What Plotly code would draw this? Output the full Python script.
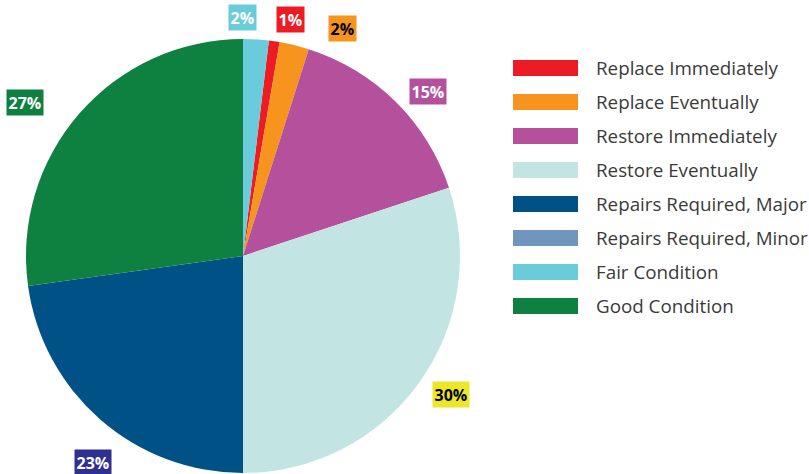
import math
import plotly.graph_objects as go

# ---- data (legend order) ----
labels = ["Replace Immediately", "Replace Eventually", "Restore Immediately",
          "Restore Eventually", "Repairs Required, Major", "Repairs Required, Minor",
          "Fair Condition", "Good Condition"]
values = [0.8, 2.2, 15.0, 30.1, 22.8, 0.0, 1.9, 27.2]
colors = ["#ED1C24", "#F7941D", "#B5509D", "#C2E5E3", "#005286", "#7195BD",
          "#6ACBDA", "#0E8040"]

# clockwise drawing order of the slices (Fair Condition wraps round to 12 o'clock)
draw_order = ["Replace Immediately", "Replace Eventually", "Restore Immediately",
              "Restore Eventually", "Repairs Required, Major", "Repairs Required, Minor",
              "Good Condition", "Fair Condition"]

# label box styling (legend order)
label_bg = ["#ED1C24", "#F7941D", "#B5509D", "#EDE72A", "#2E3192", None,
            "#6ACBDA", "#0E8040"]
label_fg = ["white", "black", "white", "black", "white", None, "white", "white"]
label_dtheta = [3.2, 10.0, 3.7, -2.1, -5.1, 0, -3.6, -5.9]      # degrees
label_rfac = [1.11, 1.147, 1.143, 1.152, 1.178, 1.0, 1.097, 1.226]

W, H = 809, 474
dom_x = [26 / W, 460 / W]
dom_y = [1 / H, 435 / H]

idx = [labels.index(l) for l in draw_order]
d_labels = [labels[i] for i in idx]
d_values = [values[i] for i in idx]
d_colors = [colors[i] for i in idx]

total = sum(values)
rotation = d_values[-1] / total * 360

fig = go.Figure(go.Pie(
    labels=d_labels, values=d_values, sort=False, direction="clockwise",
    rotation=rotation, marker=dict(colors=d_colors, line=dict(width=0)),
    textinfo="none", showlegend=False, hoverinfo="label+percent",
    domain=dict(x=dom_x, y=dom_y),
))

cx = (dom_x[0] + dom_x[1]) / 2 * W
cy = H - (dom_y[0] + dom_y[1]) / 2 * H
R = min((dom_x[1] - dom_x[0]) * W, (dom_y[1] - dom_y[0]) * H) / 2

annotations = []
shapes = []
cum = rotation
for i, v in zip(idx, d_values):
    start = cum
    cum += v / total * 360
    if v <= 0:
        continue
    mid = (start + cum) / 2 + label_dtheta[i]
    r = R * label_rfac[i]
    px = cx + r * math.sin(math.radians(mid))
    py = cy - r * math.cos(math.radians(mid))
    annotations.append(dict(
        x=px / W, y=1 - py / H, xref="paper", yref="paper",
        text=f"<b>{round(v / total * 100)}%</b>", showarrow=False,
        font=dict(family="Open Sans", size=16, color=label_fg[i]),
        bgcolor=label_bg[i], borderpad=1.5, xanchor="center", yanchor="middle",
    ))

# ---- custom legend ----
leg_x0, leg_x1, leg_text_x = 513, 578, 594
leg_y0, leg_step, leg_h = 68, 34, 16
for i, (lab, col) in enumerate(zip(labels, colors)):
    yc = leg_y0 + i * leg_step
    shapes.append(dict(type="rect", xref="paper", yref="paper",
                       x0=leg_x0 / W, x1=leg_x1 / W,
                       y0=1 - (yc + leg_h / 2) / H, y1=1 - (yc - leg_h / 2) / H,
                       fillcolor=col, line=dict(width=0)))
    annotations.append(dict(
        x=leg_text_x / W, y=1 - yc / H, xref="paper", yref="paper",
        text=lab, showarrow=False, xanchor="left", yanchor="middle",
        font=dict(family="Open Sans", size=18.8, color="#3a3a3a"),
    ))

fig.update_layout(
    width=W, height=H, margin=dict(l=0, r=0, t=0, b=0),
    paper_bgcolor="white", plot_bgcolor="white",
    annotations=annotations, shapes=shapes,
)

fig.write_html("out.html", config={"displayModeBar": False},
               post_script="document.body.style.margin='0';document.body.style.overflow='hidden';")
